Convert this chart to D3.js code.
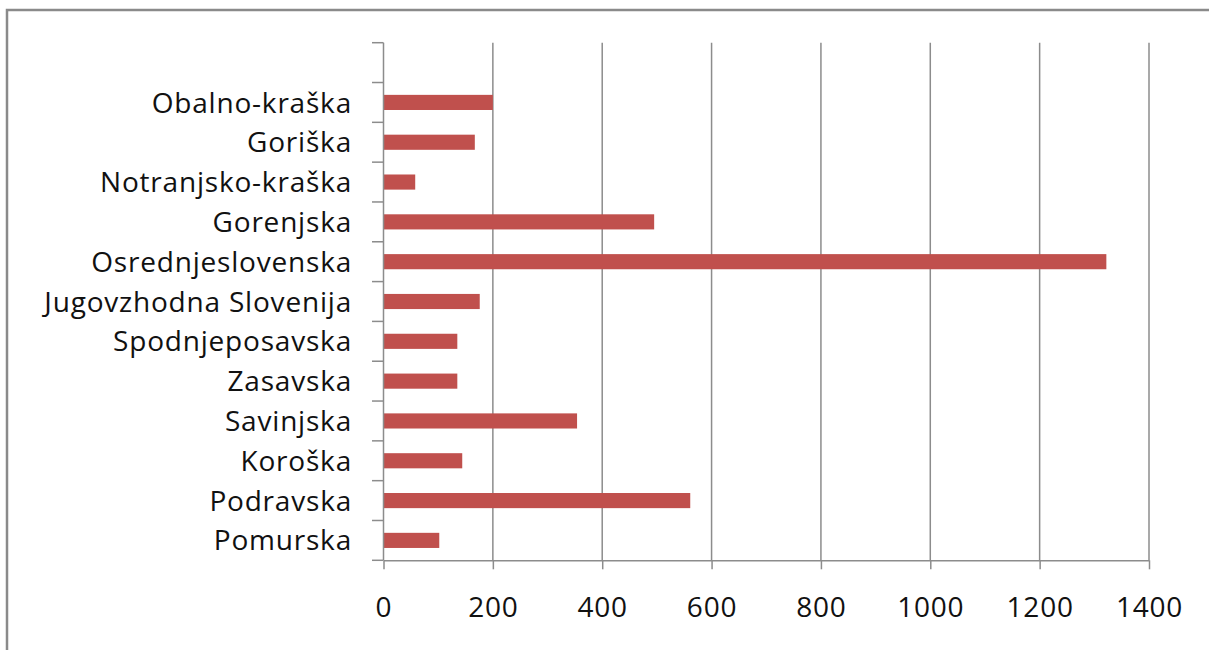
<!DOCTYPE html>
<html>
<head>
<meta charset="utf-8">
<script src="https://cdn.jsdelivr.net/npm/d3@7"></script>
<style>
  body { margin: 0; background: #fff; }
  svg { display: block; }
  text { font-family: "Open Sans", sans-serif; fill: #111; }
</style>
</head>
<body>
<svg id="chart" width="1209" height="650"></svg>
<script>
// regions top to bottom (the chart keeps one empty slot above them)
const regions = ['Obalno-kraška', 'Goriška', 'Notranjsko-kraška', 'Gorenjska',
  'Osrednjeslovenska', 'Jugovzhodna Slovenija', 'Spodnjeposavska', 'Zasavska',
  'Savinjska', 'Koroška', 'Podravska', 'Pomurska'];
const values = [200, 167, 58, 495, 1322, 176, 135, 135, 354, 144, 561, 102];
const xTicks = [0, 200, 400, 600, 800, 1000, 1200, 1400];

const svg = d3.select('#chart');
const gray = '#8c8c8c';

// outer frame, cut off at right and bottom like the screenshot
svg.append('rect')
  .attr('x', 7).attr('y', 10).attr('width', 1240).attr('height', 700)
  .attr('fill', 'none').attr('stroke', '#8a8a8a').attr('stroke-width', 2.5);

const plotL = 383.5, plotR = 1149, plotT = 42.7, plotB = 560.3;

const x = d3.scaleLinear().domain([0, 1400]).range([plotL, plotR]);
const y = d3.scaleBand()
  .domain([''].concat(regions))
  .range([plotT, plotB])
  .paddingInner(0.62)
  .paddingOuter(0.31);

// vertical gridlines
svg.append('g').selectAll('line')
  .data(xTicks.slice(1))
  .join('line')
  .attr('x1', d => x(d)).attr('x2', d => x(d))
  .attr('y1', plotT).attr('y2', plotB)
  .attr('stroke', gray).attr('stroke-width', 1.5);

// bars
svg.append('g').selectAll('rect')
  .data(regions)
  .join('rect')
  .attr('x', x(0))
  .attr('y', d => y(d))
  .attr('width', (d, i) => x(values[i]) - x(0))
  .attr('height', y.bandwidth())
  .attr('fill', '#c0504d');

// x axis
const xAxis = svg.append('g')
  .attr('transform', `translate(0,${plotB})`)
  .call(d3.axisBottom(x).tickValues(xTicks).tickFormat(d3.format('d'))
    .tickSize(9).tickPadding(28).tickSizeOuter(0));
xAxis.select('.domain').attr('stroke', gray).attr('stroke-width', 1.5);
xAxis.selectAll('.tick line').attr('stroke', gray).attr('stroke-width', 1.5);
xAxis.selectAll('.tick text')
  .attr('font-size', 28).attr('letter-spacing', 0.8)
  .attr('font-family', '"Open Sans", sans-serif').attr('fill', '#111');

// y axis line and slot ticks
const slots = d3.range(y.domain().length + 1).map(i => plotT + i * y.step());
svg.append('line')
  .attr('x1', plotL).attr('x2', plotL).attr('y1', plotT).attr('y2', plotB)
  .attr('stroke', gray).attr('stroke-width', 1.5);
svg.append('g').selectAll('line')
  .data(slots)
  .join('line')
  .attr('x1', plotL - 11.5).attr('x2', plotL)
  .attr('y1', d => d).attr('y2', d => d)
  .attr('stroke', gray).attr('stroke-width', 1.5);

// category labels
svg.append('g').selectAll('text')
  .data(regions)
  .join('text')
  .attr('x', 352)
  .attr('y', d => y(d) + y.bandwidth() / 2)
  .attr('dy', '0.36em')
  .attr('text-anchor', 'end')
  .attr('font-size', 28)
  .attr('letter-spacing', 0.8)
  .text(d => d);
</script>
</body>
</html>
